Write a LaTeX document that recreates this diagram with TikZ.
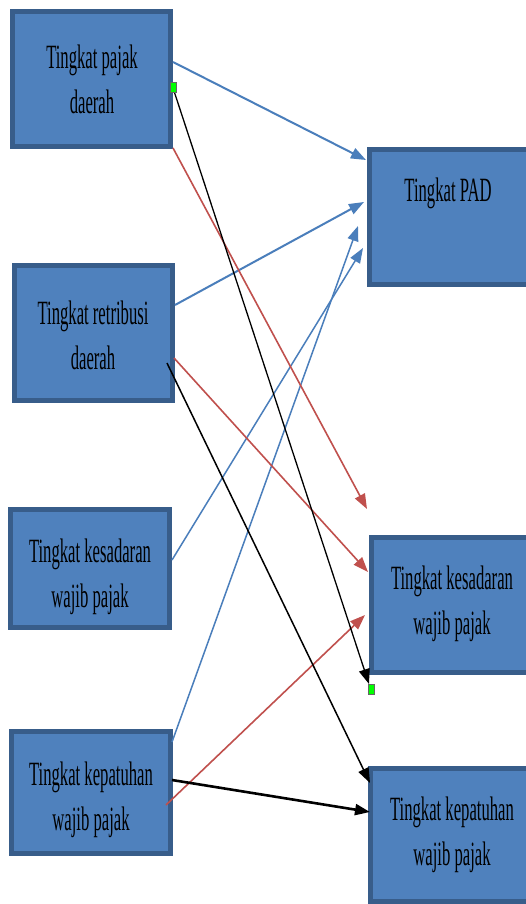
\documentclass[tikz,border=0pt]{standalone}
\usepackage{fontspec}
\usetikzlibrary{arrows.meta}
\newfontfamily\boxfont[FakeStretch=0.49]{Liberation Serif}
\definecolor{boxfill}{HTML}{4F81BD}
\definecolor{boxedge}{HTML}{385D8A}
\definecolor{linkblue}{HTML}{4A7EBB}
\definecolor{linkred}{HTML}{C0504D}
\definecolor{marker}{HTML}{00FF00}
\begin{document}
\begin{tikzpicture}[x=1pt,y=-1pt,
  varbox/.style={draw=boxedge,line width=5pt,fill=boxfill,inner sep=0pt},
  cutbox/.style={fill=boxfill,inner sep=0pt},
  cutedge/.style={draw=boxedge,line width=5pt},
  boxtext/.style={font=\boxfont\fontsize{34}{45}\selectfont,align=center,inner sep=0pt,text=black},
  tip/.style={-{Triangle[length=15pt,width=11pt]}},
  bluelink/.style={tip,draw=linkblue,line width=2pt},
  redlink/.style={tip,draw=linkred,line width=1.6pt},
  blacklink/.style={tip,draw=black,line width=1.3pt},
  handle/.style={draw=black!60,line width=0.4pt,fill=marker,inner sep=0pt,minimum width=6pt,minimum height=10pt}
]
\useasboundingbox (0,0) rectangle (525,904);
\fill[white] (0,0) rectangle (525,904);

% boxes on the left: causes
\node[varbox,minimum width=158pt,minimum height=135pt] (A) at (91.5,79) {};
\node[varbox,minimum width=158pt,minimum height=135pt] (B) at (93.5,333) {};
\node[varbox,minimum width=159pt,minimum height=118pt] (C) at (90,568.5) {};
\node[varbox,minimum width=159pt,minimum height=122pt] (D) at (91,792.5) {};
% boxes on the right: outcomes, open at the right margin
\node[cutbox,minimum width=157.5pt,minimum height=135pt] (P) at (448.25,217) {};
\node[cutbox,minimum width=155.5pt,minimum height=135pt] (E) at (449.25,605) {};
\node[cutbox,minimum width=156.5pt,minimum height=133pt] (F) at (448.75,835) {};
\foreach \b in {P,E,F}
  \draw[cutedge] (\b.north east) -- (\b.north west) -- (\b.south west) -- (\b.south east);

% labels
\node[boxtext] (At) at (92,79) {Tingkat pajak\\daerah};
\node[boxtext] (Bt) at (93,335) {Tingkat retribusi\\daerah};
\node[boxtext] (Ct) at (90,577) {Tingkat kesadaran\\wajib pajak};
\node[boxtext] (Dt) at (91,800) {Tingkat kepatuhan\\wajib pajak};
\node[boxtext] (Pt) at (448,193) {Tingkat PAD};
\node[boxtext] (Et) at (452,604) {Tingkat kesadaran\\wajib pajak};
\node[boxtext] (Ft) at (452,835) {Tingkat kepatuhan\\wajib pajak};

% connector end points
\coordinate (a1) at (173,62);   \coordinate (p1) at (366,160);
\coordinate (b1) at (175,305);  \coordinate (p2) at (364,202);
\coordinate (c1) at (172,560);  \coordinate (p3) at (363,248);
\coordinate (d1) at (172,742);  \coordinate (p4) at (358,226);
\coordinate (a2) at (173,88);   \coordinate (e0) at (369,684);
\coordinate (a3) at (173,148);  \coordinate (e1) at (367,509);
\coordinate (b2) at (174,358);  \coordinate (e2) at (368,572);
\coordinate (b3) at (167,363);  \coordinate (f1) at (370,783);
\coordinate (d2) at (166,805);  \coordinate (e3) at (365,615);
\coordinate (d3) at (172,780);  \coordinate (f2) at (370,812);

% links into Tingkat PAD
\draw[bluelink] (a1) -- (p1);
\draw[bluelink] (b1) -- (p2);
\draw[bluelink,line width=1.5pt] (c1) -- (p3);
\draw[bluelink,line width=1.5pt] (d1) -- (p4);
% links into Tingkat kesadaran wajib pajak
\draw[redlink] (a3) -- (e1);
\draw[redlink] (b2) -- (e2);
\draw[redlink] (d2) -- (e3);
\draw[blacklink] (a2) -- (e0);
% links into Tingkat kepatuhan wajib pajak
\draw[blacklink,line width=1.5pt] (b3) -- (f1);
\draw[blacklink,line width=2.6pt] (d3) -- (f2);

% selection handles of the black connector
\node[handle] (h1) at (173,87) {};
\node[handle] (h2) at (371,689) {};
\end{tikzpicture}
\end{document}
